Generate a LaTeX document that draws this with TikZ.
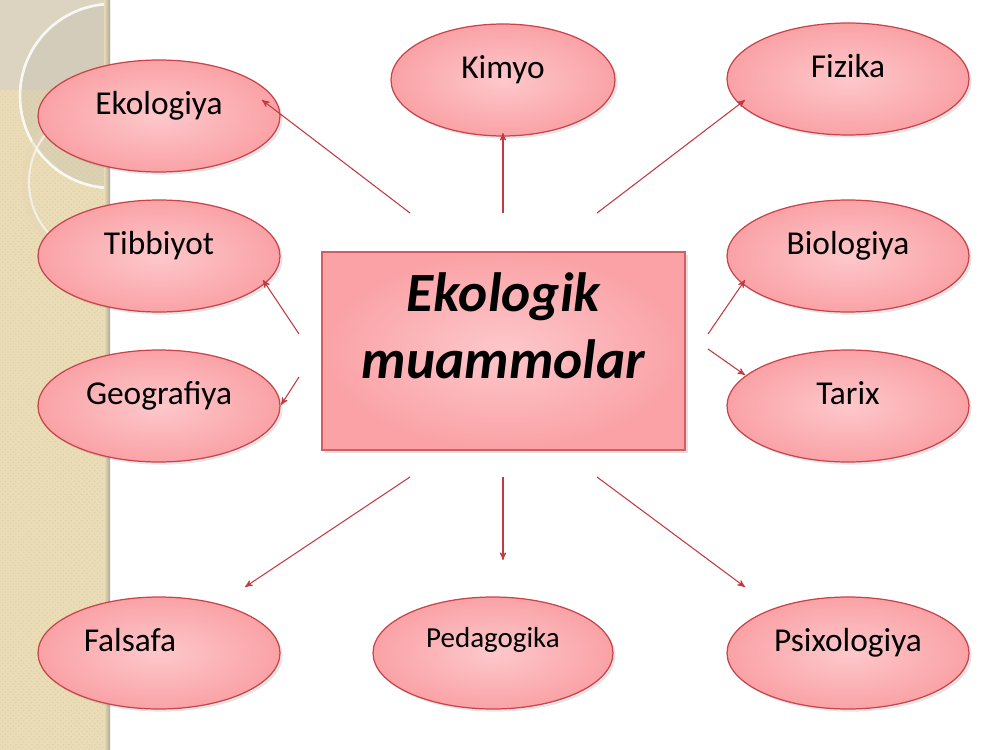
\documentclass[tikz,border=0pt]{standalone}
\usepackage{fontspec}
\setmainfont{Carlito}
\usepackage{xcolor}
\usepackage{tikz}
\usetikzlibrary{arrows,shapes.geometric,shadows,patterns}

\definecolor{ovalcore}{HTML}{FDC8CB}
\definecolor{ovalrim}{HTML}{FAA2A6}
\definecolor{ovalline}{HTML}{C8434A}
\definecolor{linkred}{HTML}{C23A40}
\definecolor{stripbeige}{HTML}{E9DCB6}
\definecolor{stripdot}{HTML}{E1D2A9}
\definecolor{stripgrey}{HTML}{DAD3C3}

\tikzset{
  oval/.style={ellipse, draw=ovalline, line width=0.7pt, shading=radial,
    inner color=ovalcore, outer color=ovalrim,
    minimum width=4.84cm, minimum height=2.24cm, inner sep=0pt,
    font=\fontsize{19}{22}\selectfont, text height=13pt, text depth=14.4pt,
    drop shadow={shadow xshift=1.5pt, shadow yshift=-1.5pt, opacity=0.2}},
  core/.style={rectangle, draw=ovalline!85, line width=0.8pt, shading=radial,
    inner color=ovalcore, outer color=ovalrim,
    minimum width=7.26cm, minimum height=3.96cm, align=center,
    font=\fontsize{31.5}{38}\selectfont\bfseries\itshape, text depth=29pt,
    drop shadow={shadow xshift=1.5pt, shadow yshift=-1.5pt, opacity=0.25}},
  link/.style={->, >=stealth', draw=linkred, line width=0.6pt}
}

\begin{document}
\begin{tikzpicture}[x=0.02cm, y=-0.02cm]

\useasboundingbox (0,0) rectangle (1000,750);
\fill[white] (0,0) rectangle (1000,750);

% left strip
\fill[stripbeige] (0,0) rectangle (110,750);
\fill[pattern=crosshatch dots, pattern color=stripdot] (0,0) rectangle (110,750);
\fill[stripgrey, opacity=0.85] (0,0) rectangle (110,90);
\begin{scope}
  \clip (0,0) rectangle (110,750);
  \fill[stripgrey!90!black, opacity=0.35] (112,96) circle (92);
  \draw[white, line width=1.5pt, opacity=0.85] (112,96) circle (92);
  \draw[stripdot!70!brown!60!white, line width=5pt, opacity=0.45] (106,182) circle (80);
  \draw[white, line width=1.2pt, opacity=0.6] (106,182) circle (77);
\end{scope}
\fill[left color=stripbeige, right color=stripgrey!80!black] (104,0) rectangle (110,750);

% subjects
\node[oval] (ekol) at (159,116) {Ekologiya};
\node[oval, minimum width=4.48cm] (kimyo) at (503,80) {Kimyo};
\node[oval] (fizika) at (848,79) {Fizika};
\node[oval] (tibb) at (159,256) {Tibbiyot};
\node[oval] (biol) at (848,256) {Biologiya};
\node[oval] (geog) at (159,406) {Geografiya};
\node[oval] (tarix) at (848,406) {Tarix};
\node[oval] (fals) at (159,653) {Falsafa\hspace*{33pt}};
\node[oval, minimum width=4.8cm, font=\fontsize{16.5}{19}\selectfont,
  text height=11.5pt, text depth=17.9pt] (peda) at (493,653) {Pedagogika};
\node[oval] (psix) at (848,653) {Psixologiya};

\node[core] (eco) at (503.5,351) {Ekologik\\muammolar};

% arrow ends
\coordinate (eco-nw) at (410,213);
\coordinate (eco-n)  at (503,213);
\coordinate (eco-ne) at (597,213);
\coordinate (eco-wn) at (299,334);
\coordinate (eco-ws) at (299,377);
\coordinate (eco-en) at (708,334);
\coordinate (eco-es) at (708,349);
\coordinate (eco-sw) at (410,477);
\coordinate (eco-s)  at (503,477);
\coordinate (eco-se) at (597,477);

\coordinate (ekol-in)   at (262,100);
\coordinate (kimyo-in)  at (503,133);
\coordinate (fizika-in) at (745,100);
\coordinate (tibb-in)   at (263,280);
\coordinate (geog-in)   at (281,405);
\coordinate (biol-in)   at (745,280);
\coordinate (tarix-in)  at (745,375);
\coordinate (fals-in)   at (245,587);
\coordinate (peda-in)   at (503,560);
\coordinate (psix-in)   at (745,587);

\draw[link] (eco-nw) -- (ekol-in);
\draw[link] (eco-n)  -- (kimyo-in);
\draw[link] (eco-ne) -- (fizika-in);
\draw[link] (eco-wn) -- (tibb-in);
\draw[link] (eco-ws) -- (geog-in);
\draw[link] (eco-en) -- (biol-in);
\draw[link] (eco-es) -- (tarix-in);
\draw[link] (eco-sw) -- (fals-in);
\draw[link] (eco-s)  -- (peda-in);
\draw[link] (eco-se) -- (psix-in);

\end{tikzpicture}
\end{document}
